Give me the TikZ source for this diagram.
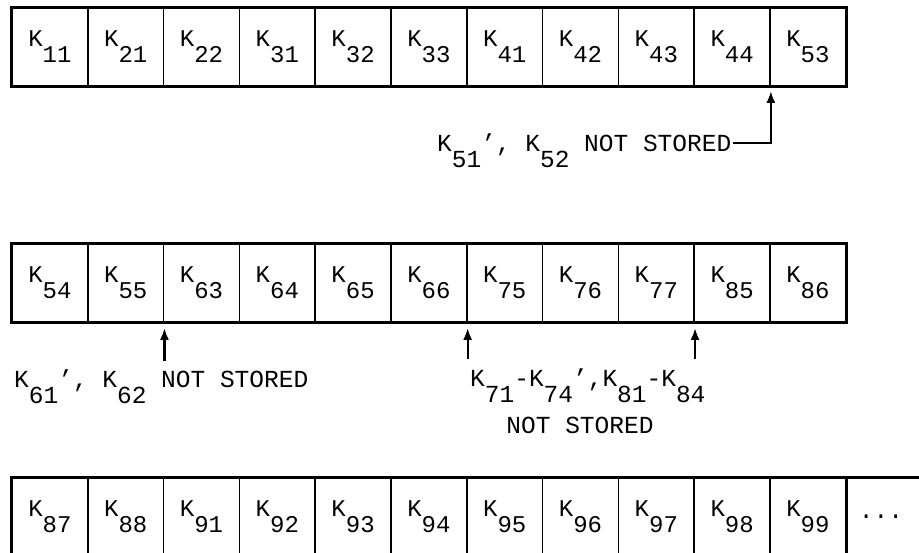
\documentclass[tikz,border=0pt]{standalone}
\usepackage{fontspec}
\setmainfont{Liberation Mono}
\usetikzlibrary{arrows.meta}
\newcommand{\ks}[1]{K\raisebox{-16pt}{#1}}
\begin{document}
\begin{tikzpicture}[x=1pt,y=-1pt,
    cell/.style={draw,line width=1.7pt,minimum width=75.8pt,minimum height=78pt,inner sep=0pt,font=\fontsize{24}{24}\selectfont},
    frame/.style={line width=3pt},
    lbl/.style={inner sep=0pt,font=\fontsize{24.5}{25}\selectfont},
    arr/.style={line width=2.3pt,-{Latex[length=12pt,width=9pt]}}]
    \useasboundingbox (0,0) rectangle (919,553);
    % erste Zeile
    \foreach \k [count=\i from 0] in {11,21,22,31,32,33,41,42,43,44,53}
        \node[cell] (k\k) at (49.9+75.8*\i,47) {\ks{\k}};
    \draw[frame] (k11.north west) rectangle (k53.south east);
    % zweite Zeile
    \foreach \k [count=\i from 0] in {54,55,63,64,65,66,75,76,77,85,86}
        \node[cell] (k\k) at (49.9+75.8*\i,283) {\ks{\k}};
    \draw[frame] (k54.north west) rectangle (k86.south east);
    % dritte Zeile
    \foreach \k [count=\i from 0] in {87,88,91,92,93,94,95,96,97,98,99}
        \node[cell] (k\k) at (49.9+75.8*\i,517) {\ks{\k}};
    \node[cell,minimum width=110pt,anchor=west] (krest) at (k99.east) {};
    \node[lbl] (dots) at (881,517) {...};
    \draw[frame] (k87.north west) rectangle (krest.south east);
    % Beschriftungen
    \node[lbl,anchor=base west] (n5) at (437,152) {\ks{51}', \ks{52} NOT STORED};
    \node[lbl,anchor=base west] (n6) at (14,388) {\ks{61}', \ks{62} NOT STORED};
    \node[lbl,anchor=base west] (n78) at (470,387) {\ks{71}-\ks{74}',\ks{81}-\ks{84}};
    \node[lbl,anchor=base] (n78b) at (580,434) {NOT STORED};
    % Pfeile
    \coordinate (a5) at ([yshift=-4pt]k44.south east);
    \draw[arr] ([xshift=2pt,yshift=9pt]n5.base east) -| (a5);
    \draw[arr] ([yshift=-38pt]k55.south east) -- ([yshift=-5pt]k55.south east);
    \draw[arr] ([yshift=-36pt]k66.south east) -- ([yshift=-5pt]k66.south east);
    \draw[arr] ([yshift=-36pt]k77.south east) -- ([yshift=-5pt]k77.south east);
\end{tikzpicture}
\end{document}
